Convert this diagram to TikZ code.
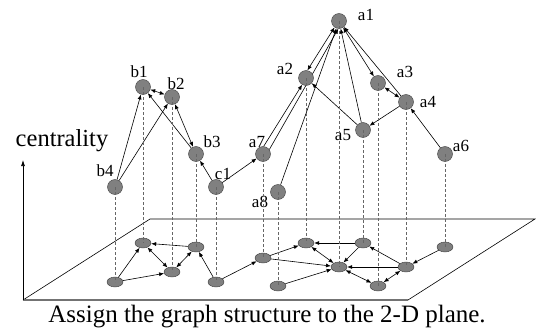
\documentclass[tikz,border=0pt]{standalone}
\usepackage{fontspec}
\setmainfont{Liberation Serif}
\usetikzlibrary{arrows.meta,positioning,shapes.geometric}
\pgfdeclarelayer{background}
\pgfsetlayers{background,main}

\begin{document}
\begin{tikzpicture}[x=1pt, y=-1pt,
                font=\fontsize{17}{17}\selectfont,
                vertex/.style={circle, draw=black!75, fill=black!50, minimum size=15pt, inner sep=0pt},
                flat/.style={ellipse, draw=black!75, fill=black!50, minimum width=16pt,
                        minimum height=10pt, inner sep=0pt},
                tag/.style={inner sep=0pt},
                edge/.style={draw, line width=0.6pt, -{Latex[length=5pt, width=4pt]}},
                twoway/.style={draw, line width=0.6pt, {Latex[length=5pt, width=4pt]}-{Latex[length=5pt, width=4pt]}},
                drop/.style={draw=black!60, line width=0.5pt, dash pattern=on 3pt off 2pt},
            ]
            \useasboundingbox (0,0) rectangle (536,332);

            % ── 2-D plane and axis ────────────────────────────────
            \coordinate (o) at (23,300);
            \coordinate (tl) at (150,219);
            \coordinate (tr) at (535,219);
            \coordinate (br) at (408,300);
            \coordinate (top) at (23,160);
            \draw[line width=0.6pt] (o) -- (tl) -- (tr) -- (br);
            \draw[black!55, line width=1.6pt] (br) -- (o);
            \draw[line width=0.7pt, -{Latex[length=6pt, width=4pt]}] (o) -- (top);
            \node[font=\fontsize{24.5}{24.5}\selectfont] (axis) at (62,141) {centrality};

            % ── Upper graph (height = centrality) ─────────────────
            \node[vertex] (b1) at (143,87)  {};
            \node[vertex] (b2) at (172,97)  {};
            \node[vertex] (b3) at (196,154) {};
            \node[vertex] (b4) at (115,187) {};
            \node[vertex] (c1) at (216,187) {};
            \node[vertex] (a1) at (339,21)  {};
            \node[vertex] (a2) at (306,78)  {};
            \node[vertex] (a3) at (378,83)  {};
            \node[vertex] (a4) at (406,102) {};
            \node[vertex] (a5) at (363,130) {};
            \node[vertex] (a6) at (445,154) {};
            \node[vertex] (a7) at (263,154) {};
            \node[vertex] (a8) at (278,192) {};

            \node[tag] (lb1) at (139,72)  {b1};
            \node[tag] (lb2) at (176,84)  {b2};
            \node[tag] (lb3) at (212,142) {b3};
            \node[tag] (lb4) at (105,171) {b4};
            \node[tag] (lc1) at (223,174) {c1};
            \node[tag] (la1) at (366,15)  {a1};
            \node[tag] (la2) at (285,69)  {a2};
            \node[tag] (la3) at (405,72)  {a3};
            \node[tag] (la4) at (428,102) {a4};
            \node[tag] (la5) at (343,135) {a5};
            \node[tag] (la6) at (461,146) {a6};
            \node[tag] (la7) at (257,142) {a7};
            \node[tag] (la8) at (260,202) {a8};

            \begin{pgfonlayer}{background}
            \draw[edge]   (b4) -- (b1);
            \draw[edge]   (b4) -- (b2);
            \draw[twoway] (b1) -- (b2);
            \draw[edge]   (b3) -- (b1);
            \draw[twoway] (b2) -- (b3);
            \draw[edge]   (c1) -- (b3);
            \draw[edge]   (c1) -- (a7);
            \draw[edge]   (a7.85) -- (a2.240);
            \draw[edge]   (a7.35) -- (a1.265);
            \draw[twoway] (a2.80) -- (a1.235);
            \draw[edge]   (a8) -- (a1);
            \draw[edge]   (a5) -- (a1);
            \draw[edge]   (a5) -- (a2);
            \draw[twoway] (a1) -- (a3);
            \draw[twoway] (a3) -- (a4);
            \draw[edge]   (a4) -- (a1);
            \draw[edge]   (a4) -- (a5);
            \draw[edge]   (a6) -- (a4);
            \end{pgfonlayer}

            % ── Same graph laid on the plane ──────────────────────
            \node[flat] (pb1) at (143,243) {};
            \node[flat] (pb2) at (172,272) {};
            \node[flat] (pb3) at (196,247) {};
            \node[flat] (pb4) at (115,282) {};
            \node[flat] (pc1) at (216,282) {};
            \node[flat] (pa1) at (339,267) {};
            \node[flat] (pa2) at (306,243) {};
            \node[flat] (pa3) at (378,286) {};
            \node[flat] (pa4) at (406,267) {};
            \node[flat] (pa5) at (363,243) {};
            \node[flat] (pa6) at (445,247) {};
            \node[flat] (pa7) at (263,258) {};
            \node[flat] (pa8) at (278,286) {};

            \draw[edge]   (pb4) -- (pb1);
            \draw[edge]   (pb4) -- (pb2);
            \draw[twoway] (pb1) -- (pb2);
            \draw[edge]   (pb3) -- (pb1);
            \draw[twoway] (pb2) -- (pb3);
            \draw[edge]   (pc1) -- (pb3);
            \draw[edge]   (pc1) -- (pa7);
            \draw[edge]   (pa7) -- (pa2);
            \draw[edge]   (pa7) -- (pa1);
            \draw[twoway] (pa2) -- (pa1);
            \draw[edge]   (pa8) -- (pa1);
            \draw[edge]   (pa5) -- (pa1);
            \draw[edge]   (pa5) -- (pa2);
            \draw[twoway] (pa1) -- (pa3);
            \draw[twoway] (pa3) -- (pa4);
            \draw[edge]   (pa4) -- (pa1);
            \draw[edge]   (pa4) -- (pa5);
            \draw[edge]   (pa6) -- (pa4);

            % ── Projection lines ──────────────────────────────────
            \draw[drop] (b1.center) -- (pb1.center);
            \draw[drop] (b2.center) -- (pb2.center);
            \draw[drop] (b3.center) -- (pb3.center);
            \draw[drop] (b4.center) -- (pb4.center);
            \draw[drop] (c1.center) -- (pc1.center);
            \draw[drop] (a1.center) -- (pa1.center);
            \draw[drop] (a2.center) -- (pa2.center);
            \draw[drop] (a3.center) -- (pa3.center);
            \draw[drop] (a4.center) -- (pa4.center);
            \draw[drop] (a5.center) -- (pa5.center);
            \draw[drop] (a6.center) -- (pa6.center);
            \draw[drop] (a7.center) -- (pa7.center);
            \draw[drop] (a8.center) -- (pa8.center);

            % ── Caption ───────────────────────────────────────────
            \node[font=\fontsize{25}{25}\selectfont] (caption) at (267,317) {Assign the graph structure to the 2-D plane.};
        \end{tikzpicture}
\end{document}
